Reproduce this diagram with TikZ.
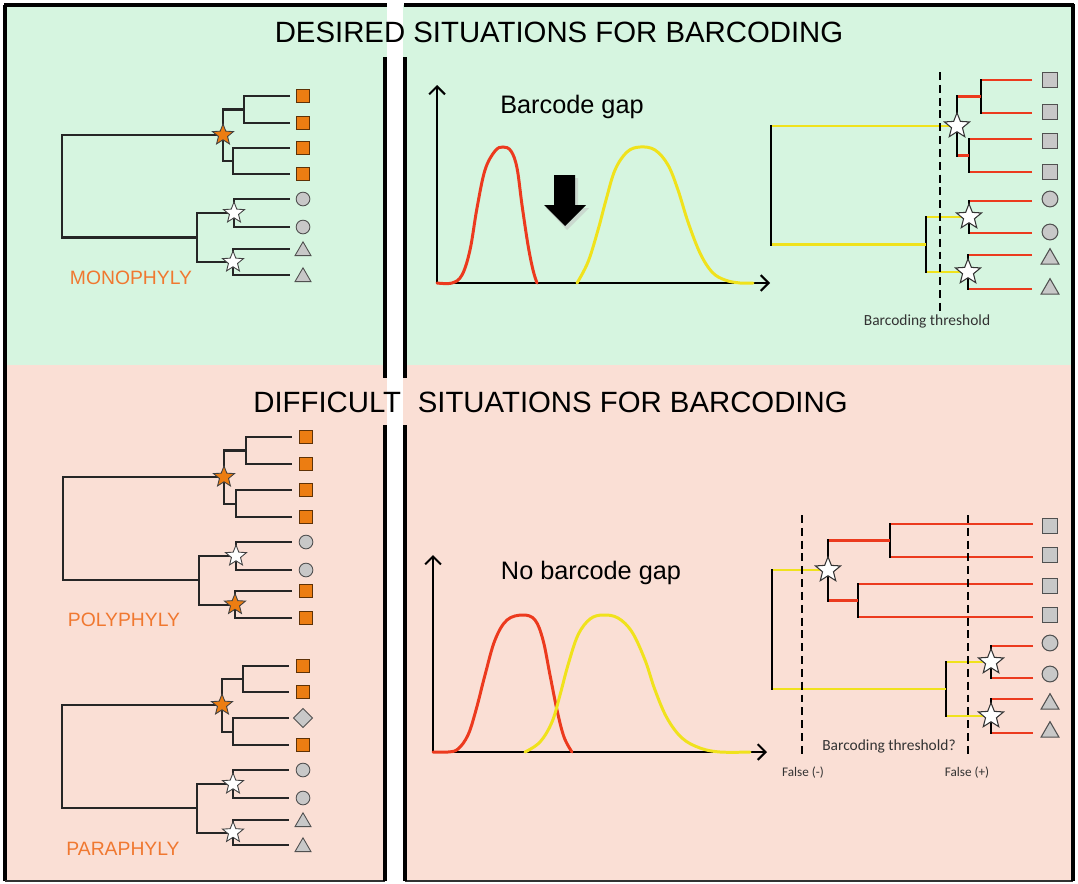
\documentclass[tikz,border=0pt]{standalone}
\usepackage{fontspec}
\setmainfont{Liberation Sans}
\newfontfamily\calib{Carlito}
\usetikzlibrary{shapes.geometric,arrows.meta}
\definecolor{bggreen}{RGB}{214,245,224}
\definecolor{bgpink}{RGB}{250,223,213}
\definecolor{orng}{RGB}{236,125,18}
\definecolor{orngtxt}{RGB}{240,120,48}
\definecolor{symgray}{RGB}{200,200,200}
\definecolor{symedge}{RGB}{80,80,80}
\definecolor{redl}{RGB}{236,58,30}
\definecolor{yell}{RGB}{240,226,28}
\newcommand\treebr[3]{\draw[tree] (#2) -| (#1) |- (#3);}
\newcommand\colbr[5]{\draw[cline,draw=#3] (#2) -- (#2 -| #1); \draw[cline,draw=#5] (#4) -- (#4 -| #1); \draw[vline] (#2 -| #1) -- (#4 -| #1);}
\tikzset{
 tree/.style={draw=black!85, line width=1.15pt, line cap=rect},
 cline/.style={line width=1.5pt},
 vline/.style={draw=black, line width=1.5pt, line cap=rect},
 axis/.style={draw=black, line width=1.15pt, -{Straight Barb[length=4.5pt,width=9pt]}},
 redcurve/.style={draw=redl, line width=1.7pt, line cap=round},
 yelcurve/.style={draw=yell, line width=1.7pt, line cap=round},
 thr/.style={draw=black, line width=1.1pt, dash pattern=on 4.5pt off 2.8pt},
 frame/.style={draw=black, line width=1.8pt},
 lbl/.style={text=orngtxt, font=\fontsize{11pt}{13pt}\selectfont},
 small/.style={font=\calib\fontsize{8.8pt}{10pt}\selectfont, text=black!80},
 tiny/.style={font=\calib\fontsize{7.5pt}{9pt}\selectfont, text=black!80},
 title/.style={font=\fontsize{16.7pt}{20pt}\selectfont, inner sep=0},
 gap/.style={font=\fontsize{14.4pt}{17pt}\selectfont, inner sep=0},
 osq/.style={rectangle, fill=orng, draw=black!60!orng, line width=0.5pt, minimum size=7.5pt, inner sep=0},
 gcirc/.style={circle, fill=symgray, draw=symedge, line width=0.5pt, minimum size=7.8pt, inner sep=0},
 gtri/.style={regular polygon, regular polygon sides=3, fill=symgray, draw=symedge, line width=0.5pt, minimum size=10.5pt, inner sep=0},
 gdiam/.style={diamond, fill=symgray, draw=symedge, line width=0.5pt, minimum size=11pt, inner sep=0},
 gsqb/.style={rectangle, fill=symgray, draw=symedge, line width=0.6pt, minimum size=9pt, inner sep=0},
 gcircb/.style={circle, fill=symgray, draw=symedge, line width=0.6pt, minimum size=9pt, inner sep=0},
 gtrib/.style={regular polygon, regular polygon sides=3, fill=symgray, draw=symedge, line width=0.6pt, minimum size=11.8pt, inner sep=0},
 ostar/.style={star, star points=5, star point ratio=2.3, fill=orng, draw=black!75, line width=0.5pt, minimum size=12.5pt, inner sep=0},
 wstar/.style={star, star points=5, star point ratio=2.3, fill=white, draw=black!75, line width=0.5pt, minimum size=12.5pt, inner sep=0},
 wstarb/.style={star, star points=5, star point ratio=2.3, fill=white, draw=black!80, line width=0.6pt, minimum size=15pt, inner sep=0},
}
\begin{document}
\begin{tikzpicture}[x=0.02cm, y=-0.02cm]
\useasboundingbox (0,0) rectangle (1078,883);
% backgrounds
\fill[bggreen] (5,5) rectangle (1073,365);
\fill[bgpink] (5,365) rectangle (1073,880);
\fill[white] (387,0) rectangle (403,883);
% frame
\draw[frame] (4,5) -- (387,5);
\draw[frame] (404,5) -- (1074,5);
\draw[frame] (5,5) -- (5,881);
\draw[draw=black!80, line width=0.8pt] (5,881) -- (385,881);
\draw[draw=black!80, line width=0.8pt] (405,881) -- (1073,881);
\draw[draw=black, line width=2.6pt] (1073,4) -- (1073,881);
\draw[frame] (385,57) -- (385,378);
\draw[frame] (385,425) -- (385,881);
\draw[frame] (405,57) -- (405,378);
\draw[frame] (405,425) -- (405,881);
% titles
\node[title] (t1) at (559,32) {DESIRED SITUATIONS FOR BARCODING};
\node[title, anchor=west] (t2a) at (253,402) {DIFFICULT};
\node[title, anchor=east] (t2b) at (848,402) {SITUATIONS FOR BARCODING};

% ---------- MONOPHYLY ----------
\foreach \n/\y in {1/96,2/123,3/148,4/174,5/199,6/227,7/249,8/275} \coordinate (m\n) at (289,\y);
\coordinate (mA1) at (244,109.5); \coordinate (mA2) at (233,161); \coordinate (mA) at (223,135);
\coordinate (mB1) at (234,213); \coordinate (mB2) at (233,262); \coordinate (mB) at (197,237.5);
\coordinate (mR) at (62,186);
\treebr{mA1}{m1}{m2} \treebr{mA2}{m3}{m4} \treebr{mA}{mA1}{mA2}
\treebr{mB1}{m5}{m6} \treebr{mB2}{m7}{m8} \treebr{mB}{mB1}{mB2}
\treebr{mR}{mA}{mB}
\node[ostar] (smA) at (mA) {};
\node[wstar] (smB1) at (mB1) {};
\node[wstar] (smB2) at (mB2) {};
\foreach \n/\y in {1/96,2/123,3/148,4/174} \node[osq] (ms\n) at (303,\y) {};
\node[gcirc] (ms5) at (303,199) {};
\node[gcirc] (ms6) at (303,227) {};
\node[gtri] (ms7) at (303,251) {};
\node[gtri] (ms8) at (303,277) {};
\node[lbl] (monolbl) at (131,278) {MONOPHYLY};

% ---------- POLYPHYLY ----------
\foreach \n/\y in {1/437,2/464,3/490,4/517,5/542,6/570,7/591,8/618} \coordinate (p\n) at (291,\y);
\coordinate (pA1) at (246,450.5); \coordinate (pA2) at (236,503.5); \coordinate (pA) at (224,477);
\coordinate (pB1) at (236,556); \coordinate (pB2) at (235,604.5); \coordinate (pB) at (199,580);
\coordinate (pR) at (63,528);
\treebr{pA1}{p1}{p2} \treebr{pA2}{p3}{p4} \treebr{pA}{pA1}{pA2}
\treebr{pB1}{p5}{p6} \treebr{pB2}{p7}{p8} \treebr{pB}{pB1}{pB2}
\treebr{pR}{pA}{pB}
\node[ostar] (spA) at (pA) {};
\node[wstar] (spB1) at (pB1) {};
\node[ostar] (spB2) at (pB2) {};
\foreach \n/\y in {1/437,2/464,3/490,4/517,7/591,8/618} \node[osq] (ps\n) at (306,\y) {};
\node[gcirc] (ps5) at (306,542) {};
\node[gcirc] (ps6) at (306,570) {};
\node[lbl] (polylbl) at (124,620) {POLYPHYLY};

% ---------- PARAPHYLY ----------
\foreach \n/\y in {1/666,2/692,3/718,4/745,5/770,6/798,7/820,8/845} \coordinate (q\n) at (288,\y);
\coordinate (qA1) at (243,679); \coordinate (qA2) at (233,731.5); \coordinate (qA) at (222,705);
\coordinate (qB1) at (233,784); \coordinate (qB2) at (233,832.5); \coordinate (qB) at (197,808);
\coordinate (qR) at (62,756);
\treebr{qA1}{q1}{q2} \treebr{qA2}{q3}{q4} \treebr{qA}{qA1}{qA2}
\treebr{qB1}{q5}{q6} \treebr{qB2}{q7}{q8} \treebr{qB}{qB1}{qB2}
\treebr{qR}{qA}{qB}
\node[ostar] (sqA) at (qA) {};
\node[wstar] (sqB1) at (qB1) {};
\node[wstar] (sqB2) at (qB2) {};
\foreach \n/\y in {1/666,2/692,4/745} \node[osq] (qs\n) at (303,\y) {};
\node[gdiam] (qs3) at (303,718) {};
\node[gcirc] (qs5) at (303,770) {};
\node[gcirc] (qs6) at (303,798) {};
\node[gtri] (qs7) at (303,822) {};
\node[gtri] (qs8) at (303,847) {};
\node[lbl] (paralbl) at (123,849) {PARAPHYLY};

% ---------- TOP GRAPH ----------
\coordinate (o1) at (437,283); \coordinate (ya1) at (437,85); \coordinate (xa1) at (770,283);
\draw[axis] (o1) -- (ya1);
\draw[axis] (o1) -- (xa1);
\draw[redcurve] plot[smooth, tension=0.6] coordinates {(437,283) (452,283) (462,275) (470,250) (477,208) (485,170) (495,151) (503,147) (511,151) (517,168) (522,205) (528,245) (533,270) (537,283)};
\draw[yelcurve] plot[smooth, tension=0.6] coordinates {(577,283) (588,262) (598,230) (606,200) (615,170) (627,152) (640,147) (655,150) (668,165) (678,190) (688,222) (700,253) (712,272) (725,280) (740,283) (753,283)};
\fill[black!25, opacity=0.5] (556,178) -- (578,178) -- (578,208) -- (589,208) -- (567,230) -- (546,208) -- (556,208) -- cycle;
\fill[black] (554,175) -- (575,175) -- (575,205) -- (586,205) -- (565,226) -- (544,205) -- (554,205) -- cycle;
\node[gap] (gaplbl) at (572,107) {Barcode gap};

% ---------- BOTTOM GRAPH ----------
\coordinate (o2) at (433,752); \coordinate (ya2) at (433,555); \coordinate (xa2) at (767,752);
\draw[axis] (o2) -- (ya2);
\draw[axis] (o2) -- (xa2);
\draw[redcurve] plot[smooth, tension=0.6] coordinates {(433,752) (448,752) (458,749) (468,735) (476,710) (485,675) (495,640) (507,620) (523,615) (535,620) (543,640) (550,675) (557,710) (564,737) (572,752)};
\draw[yelcurve] plot[smooth, tension=0.6] coordinates {(525,752) (540,742) (552,722) (560,695) (568,665) (578,635) (590,619) (603,615) (618,618) (632,632) (645,660) (655,690) (667,718) (682,738) (700,748) (720,752) (750,752)};
\node[gap] (nogaplbl) at (591,573) {No barcode gap};

% ---------- TOP RIGHT TREE ----------
\coordinate (thrT) at (940,72); \coordinate (thrB) at (940,312);
\foreach \n/\y in {1/80,2/113,3/139,4/172,5/201,6/233,7/255,8/289} \coordinate (t\n) at (1032,\y);
\coordinate (tA1) at (981,96.5); \coordinate (tA2) at (969,155.5); \coordinate (tA) at (957,126);
\coordinate (tB1) at (969,217); \coordinate (tB2) at (968,272); \coordinate (tB) at (926,244.5);
\coordinate (tR) at (771,185);
\colbr{tA1}{t1}{redl}{t2}{redl} \colbr{tA2}{t3}{redl}{t4}{redl}
\colbr{tB1}{t5}{redl}{t6}{redl} \colbr{tB2}{t7}{redl}{t8}{redl}
\colbr{tA}{tA1}{redl}{tA2}{redl} \colbr{tB}{tB1}{yell}{tB2}{yell}
\colbr{tR}{tA}{yell}{tB}{yell}
\draw[thr] (thrT) -- (thrB);
\node[wstarb] (stA) at (tA) {};
\node[wstarb] (stB1) at (tB1) {};
\node[wstarb] (stB2) at (tB2) {};
\foreach \n/\y in {1/80,2/112,3/141,4/172} \node[gsqb] (ts\n) at (1050,\y) {};
\node[gcircb] (ts5) at (1050,199) {};
\node[gcircb] (ts6) at (1050,232) {};
\node[gtrib] (ts7) at (1050,259) {};
\node[gtrib] (ts8) at (1050,289) {};
\node[small] (thrlbl) at (927,321) {Barcoding threshold};

% ---------- BOTTOM RIGHT TREE ----------
\coordinate (fnT) at (802,515); \coordinate (fnB) at (802,757);
\coordinate (fpT) at (968,515); \coordinate (fpB) at (968,757);
\foreach \n/\y in {1/524,2/557,3/584,4/617,5/646,6/678,7/699,8/733} \coordinate (u\n) at (1033,\y);
\coordinate (uA1) at (890,540.5); \coordinate (uA2) at (858,600.5); \coordinate (uA) at (828,570);
\coordinate (uB1) at (991,662); \coordinate (uB2) at (991,716); \coordinate (uB) at (946,689);
\coordinate (uR) at (772,630);
\colbr{uA1}{u1}{redl}{u2}{redl} \colbr{uA2}{u3}{redl}{u4}{redl}
\colbr{uB1}{u5}{redl}{u6}{redl} \colbr{uB2}{u7}{redl}{u8}{redl}
\colbr{uA}{uA1}{redl}{uA2}{redl} \colbr{uB}{uB1}{yell}{uB2}{yell}
\colbr{uR}{uA}{yell}{uB}{yell}
\draw[thr] (fnT) -- (fnB);
\draw[thr] (fpT) -- (fpB);
\node[wstarb] (suA) at (uA) {};
\node[wstarb] (suB1) at (uB1) {};
\node[wstarb] (suB2) at (uB2) {};
\foreach \n/\y in {1/526,2/555,3/586,4/615} \node[gsqb] (us\n) at (1050,\y) {};
\node[gcircb] (us5) at (1050,643) {};
\node[gcircb] (us6) at (1050,674) {};
\node[gtrib] (us7) at (1050,704) {};
\node[gtrib] (us8) at (1050,732) {};
\node[small] (thrqlbl) at (889,746) {Barcoding threshold?};
\node[tiny] (fneg) at (803,773) {False (-)};
\node[tiny] (fpos) at (967,773) {False (+)};
\end{tikzpicture}
\end{document}
